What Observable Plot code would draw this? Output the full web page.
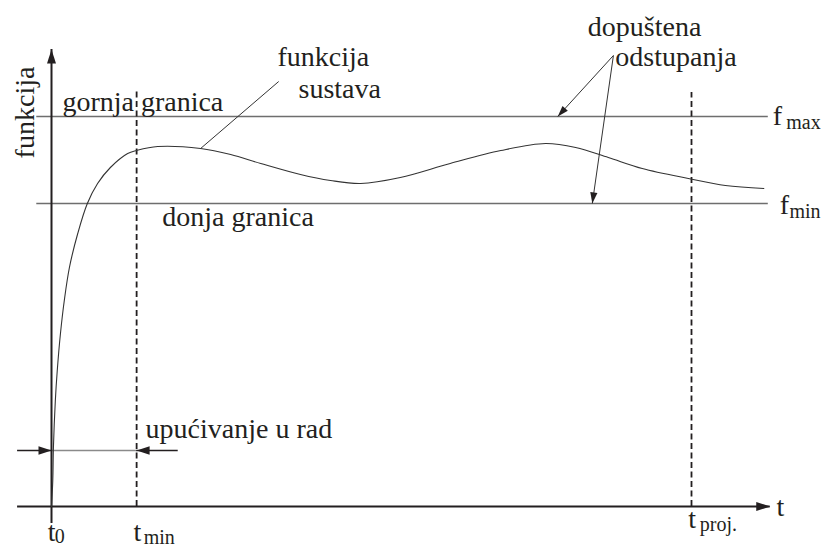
<!DOCTYPE html>
<html><head><meta charset="utf-8">
<script src="https://cdn.jsdelivr.net/npm/d3@7"></script>
<script src="https://cdn.jsdelivr.net/npm/@observablehq/plot@0.6"></script>
<style>
html,body{margin:0;padding:0;background:#fff;}
#chart svg{display:block;overflow:visible}
#chart svg text{font-family:"Liberation Serif","DejaVu Serif","Times New Roman",serif !important;}
</style>
</head><body><div id="chart"></div>
<script>
// ---- data (t = time units, f = function units) ----
const curveT = [0, 0.02, 0.03, 0.06, 0.09, 0.14, 0.20, 0.28, 0.41, 0.56, 0.72, 0.92, 1.19, 1.33, 1.66, 2.33, 2.80, 3.27, 3.89, 4.36, 4.83, 5.45, 6.23, 7.02, 7.72, 8.19, 8.70, 9.23, 9.95, 10.53, 11.13];
const curveF = [0, 0.26, 0.59, 1.06, 1.36, 1.73, 2.06, 2.39, 2.73, 3.03, 3.23, 3.39, 3.53, 3.56, 3.60, 3.58, 3.52, 3.43, 3.32, 3.26, 3.23, 3.29, 3.43, 3.56, 3.63, 3.59, 3.49, 3.38, 3.28, 3.21, 3.18];

const fMax = 3.90, fMin = 3.03;          // limits
const limitT = [-0.23, 11.20];          // extent of limit lines
const tMin = 1.33, tProj = 10.0;         // dashed verticals
const dashTop = [4.16, 4.14];
const yAxisF = [-0.17, 4.57];           // y axis extent (tip at top)
const xAxisT = [-0.53, 11.23];          // x axis extent (tip at right)
const startF = 0.56;                    // "upućivanje u rad" arrows level
const startArrowOuterT = [-0.53, 1.98];

// leader line "funkcija sustava"
const leaderFrom = [3.55, 4.25], leaderTo = [2.33, 3.58];
// "dopuštena odstupanja" arrows
const devFrom = [8.78, 4.51];
const devTipT = [7.91, 8.45];
const devTipF = [3.90, 3.03];

// text labels
const mainLabels = ["gornja granica", "donja granica", "funkcija", "sustava", "dopuštena", "odstupanja", "upućivanje u rad", "f", "f", "t", "t", "t", "t"];
const mainLabelT = [0.17, 1.73, 3.53, 3.86, 8.38, 8.81, 1.47, 11.27, 11.38, 11.33, -0.06, 1.28, 9.95];
const mainLabelF = [3.96, 2.81, 4.41, 4.09, 4.71, 4.41, 0.69, 3.82, 2.93, -0.09, -0.34, -0.34, -0.21];
const subLabels = ["max", "min", "0", "min", "proj."];
const subLabelT = [11.48, 11.53, 0.05, 1.44, 10.13];
const subLabelF = [3.78, 2.89, -0.36, -0.37, -0.24];
const yTitle = "funkcija";
const yTitlePos = [-0.28, 3.94];

// ---- layout ----
const W = 825, H = 547;
const xDom = [-51 / 64, 774 / 64];
const yDom = [-0.41, 5.06];
const kx = W / (xDom[1] - xDom[0]);
const ky = H / (yDom[1] - yDom[0]);
const ang = (dt, df) => Math.atan2(dt * kx, df * ky) * 180 / Math.PI;

const curve = curveT.map((t, i) => ({t, f: curveF[i]}));

const head = (half) => ({
  draw(ctx, l) { ctx.moveTo(0, -l); ctx.lineTo(half, 0); ctx.lineTo(-half, 0); ctx.closePath(); }
});

const axisHeads = [
  {t: 0, f: yAxisF[1], r: 0},
  {t: xAxisT[1], f: 0, r: 90}
];
const startHeads = [
  {t: 0, f: startF, r: 90},
  {t: tMin, f: startF, r: -90}
];
const devHeads = devTipT.map((t, i) => ({t, f: devTipF[i], r: ang(t - devFrom[0], devTipF[i] - devFrom[1])}));

const ink = "#231f20";
const font = "'Liberation Serif', 'DejaVu Serif', serif";

const chart = Plot.plot({
  width: W, height: H,
  marginTop: 0, marginRight: 0, marginBottom: 0, marginLeft: 0,
  x: {domain: xDom, axis: null},
  y: {domain: yDom, axis: null},
  style: {background: "#fff", fontFamily: font, overflow: "visible"},
  marks: [
    // limit lines
    Plot.ruleY([fMax, fMin], {x1: limitT[0], x2: limitT[1], stroke: "#6e6e6e", strokeWidth: 1.6}),
    // dashed verticals
    Plot.ruleX([tMin, tProj], {x: d => d, y1: 0, y2: (d, i) => dashTop[i], stroke: ink, strokeWidth: 1.8, strokeDasharray: "6,3.5"}),
    // start-up span
    Plot.ruleY([startF], {x1: 0, x2: tMin, stroke: "#8a8a8a", strokeWidth: 1.4}),
    Plot.ruleY([startF], {x1: startArrowOuterT[0], x2: 0, stroke: ink, strokeWidth: 1.6}),
    Plot.ruleY([startF], {x1: tMin, x2: startArrowOuterT[1], stroke: ink, strokeWidth: 1.6}),
    // axes
    Plot.ruleX([0], {y1: yAxisF[0], y2: yAxisF[1], stroke: ink, strokeWidth: 2}),
    Plot.ruleY([0], {x1: xAxisT[0], x2: xAxisT[1], stroke: ink, strokeWidth: 1.8}),
    // system function curve
    Plot.line(curve, {x: "t", y: "f", curve: "catmull-rom", stroke: "#333", strokeWidth: 1.1}),
    // leader lines
    Plot.link([0], {x1: leaderFrom[0], y1: leaderFrom[1], x2: leaderTo[0], y2: leaderTo[1], stroke: "#333", strokeWidth: 1}),
    Plot.link(devTipT, {x1: devFrom[0], y1: devFrom[1], x2: d => d, y2: (d, i) => devTipF[i], stroke: "#333", strokeWidth: 1}),
    // arrowheads
    Plot.vector(axisHeads, {x: "t", y: "f", rotate: "r", length: 14, anchor: "end", shape: head(4.5), fill: ink, stroke: "none"}),
    Plot.vector(startHeads, {x: "t", y: "f", rotate: "r", length: 13, anchor: "end", shape: head(4.2), fill: ink, stroke: "none"}),
    Plot.vector(devHeads, {x: "t", y: "f", rotate: "r", length: 11, anchor: "end", shape: head(3.6), fill: ink, stroke: "none"}),
    // labels
    Plot.text(mainLabels, {x: (d, i) => mainLabelT[i], y: (d, i) => mainLabelF[i], text: d => d, textAnchor: "start", lineAnchor: "bottom", fontSize: 28, fill: ink, fontFamily: font}),
    Plot.text(subLabels, {x: (d, i) => subLabelT[i], y: (d, i) => subLabelF[i], text: d => d, textAnchor: "start", lineAnchor: "bottom", fontSize: 20, fill: ink, fontFamily: font}),
    Plot.text([yTitle], {x: yTitlePos[0], y: yTitlePos[1], text: d => d, rotate: -90, textAnchor: "middle", lineAnchor: "bottom", fontSize: 28, fill: ink, fontFamily: font})
  ]
});
document.getElementById("chart").appendChild(chart);
</script>
</body></html>
